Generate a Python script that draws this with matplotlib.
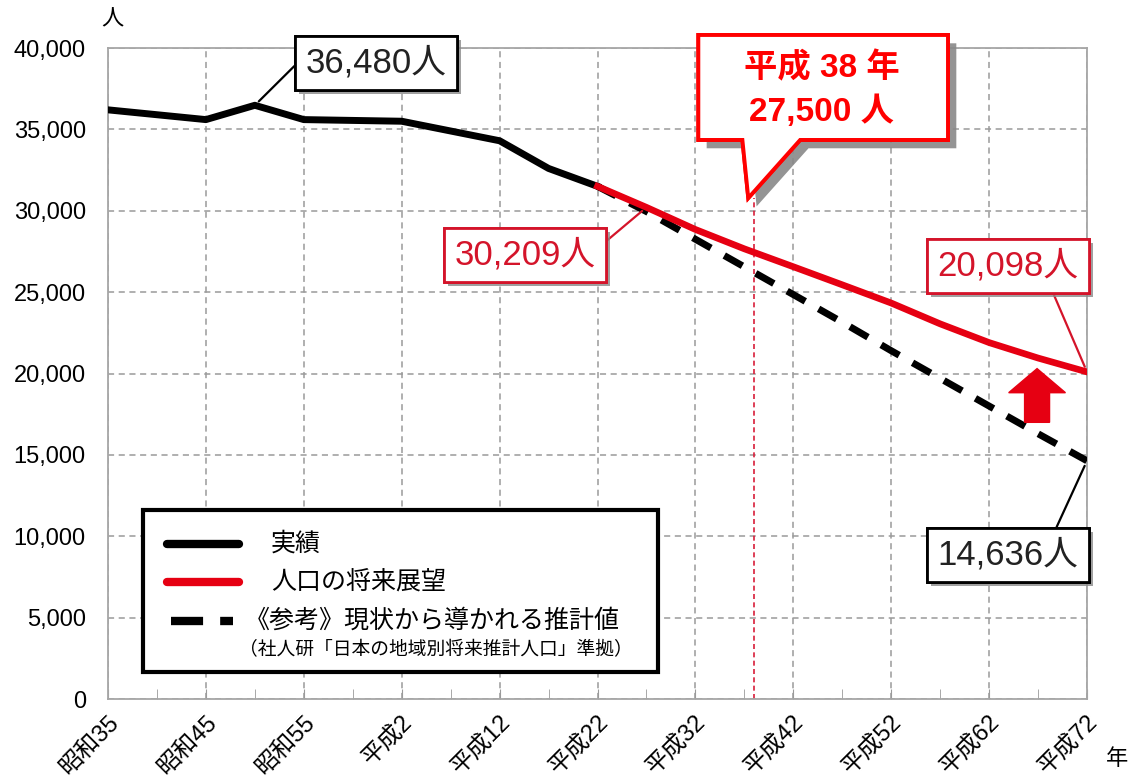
import matplotlib
matplotlib.use("Agg")
import matplotlib.pyplot as plt
import matplotlib.patheffects as pe
from matplotlib.patches import Polygon, Rectangle
from matplotlib.lines import Line2D
from matplotlib.ticker import FuncFormatter, MultipleLocator

plt.rcParams["font.family"] = ["Liberation Sans", "Noto Sans CJK JP", "DejaVu Sans"]

# Data
years_actual = [1960, 1965, 1970, 1975, 1980, 1985, 1990, 1995, 2000, 2005, 2010]
pop_actual = [36200, 35900, 35600, 36480, 35600, 35550, 35500, 34900, 34300, 32600, 31500]

years_future = [2010, 2015, 2020, 2025, 2030, 2035, 2040, 2045, 2050, 2055, 2060]
pop_vision = [31500, 30209, 28850, 27660, 26560, 25450, 24330, 23050, 21900, 20950, 20098]
pop_reference = [31500, 29950, 28250, 26550, 24850, 23150, 21400, 19700, 18000, 16300, 14636]

tick_years = [1960, 1970, 1980, 1990, 2000, 2010, 2020, 2030, 2040, 2050, 2060]
tick_labels = ["昭和35", "昭和45", "昭和55", "平成2", "平成12", "平成22",
               "平成32", "平成42", "平成52", "平成62", "平成72"]

target_year = 2026
target_label = ["平成 38 年", "27,500 人"]

RED = "#e60012"
TXT_RED = "#d4142a"
GRID = "#9a9a9a"

fig = plt.figure(figsize=(11.29, 7.78), dpi=100)
ax = fig.add_axes([108 / 1129, 79 / 778, 979 / 1129, 651 / 778])

ax.set_xlim(1960, 2060)
ax.set_ylim(0, 40000)

# grid + spines
ax.set_xticks(tick_years)
ax.set_xticklabels(tick_labels, rotation=45, ha="right", va="top",
                   rotation_mode="anchor", fontsize=17)
ax.xaxis.set_minor_locator(MultipleLocator(5))
ax.yaxis.set_major_locator(MultipleLocator(5000))
ax.yaxis.set_major_formatter(FuncFormatter(lambda v, p: f"{int(v):,}"))
ax.tick_params(axis="y", length=0, pad=16, labelsize=17)
ax.tick_params(axis="x", which="both", direction="in", length=7, color=GRID, pad=9)
ax.grid(True, which="major", color=GRID, linestyle=(0, (4, 3)), linewidth=1.1)
for s in ax.spines.values():
    s.set_color("#a6a6a6")
    s.set_linewidth(1.3)

# series
ax.plot(years_future, pop_reference, color="black", lw=5, linestyle=(0, (3, 2.2)),
        dash_capstyle="butt", zorder=3)
ax.plot(years_actual, pop_actual, color="black", lw=5, solid_joinstyle="round", zorder=4)
ax.plot(years_future, pop_vision, color=RED, lw=4.8, zorder=5)

# red marker line for H38
ax.plot([target_year, target_year], [0, 30800], color="#d81e3a", lw=1.2,
        linestyle=(0, (3, 2)), zorder=2, clip_on=False)

# up arrow
ax_c, head_w, shaft_w = 2054.9, 5.8, 2.55
arrow = Polygon([(ax_c, 20300), (ax_c + head_w / 2, 18820), (ax_c + shaft_w / 2, 18820),
                 (ax_c + shaft_w / 2, 17000), (ax_c - shaft_w / 2, 17000),
                 (ax_c - shaft_w / 2, 18820), (ax_c - head_w / 2, 18820)],
                closed=True, color=RED, zorder=6)
ax.add_patch(arrow)

shadow = [pe.withSimplePatchShadow(offset=(3, -3), shadow_rgbFace="#888888", alpha=0.8), pe.Normal()]


def label(text, xy, xytext, color, relpos, edge):
    a = ax.annotate(text, xy=xy, xytext=xytext, textcoords="data", fontsize=25,
                    color=color, ha="center", va="center", zorder=8,
                    bbox=dict(boxstyle="square,pad=0.3", fc="white", ec=edge, lw=2),
                    arrowprops=dict(arrowstyle="-", color=edge, lw=1.6, relpos=relpos,
                                    shrinkA=0, shrinkB=4),
                    annotation_clip=False)
    a.get_bbox_patch().set_path_effects(shadow)
    return a


label("36,480人", (1975, 36480), (1987.4, 39080), "#222222", (0, 0.75), "black")
label("30,209人", (2015, 30209), (2002.6, 27280), TXT_RED, (1, 0.65), "#d4142a")
label("20,098人", (2060, 20098), (2051.9, 26600), TXT_RED, (0.79, 0), "#d4142a")
label("14,636人", (2060, 14636), (2051.9, 8850), "#222222", (0.81, 1), "black")

# H38 callout
callout = Polygon([(2020.3, 40800), (2045.8, 40800), (2045.8, 34350), (2030.7, 34350),
                   (2025.4, 30780), (2024.8, 34350), (2020.3, 34350)],
                  closed=True, fc="white", ec="#ff0000", lw=2.8, clip_on=False, zorder=9,
                  joinstyle="miter")
callout.set_path_effects([pe.withSimplePatchShadow(offset=(6, -6), shadow_rgbFace="#888888", alpha=0.9), pe.Normal()])
ax.add_patch(callout)
ax.text(2032.9, 38770, target_label[0], color="#ff0000", fontsize=24, fontweight="bold",
        ha="center", va="center", zorder=10)
ax.text(2032.9, 36070, target_label[1], color="#ff0000", fontsize=24, fontweight="bold",
        ha="center", va="center", zorder=10)

# legend box (drawn by hand to match the two-line note)
tr = ax.transAxes
ax.add_patch(Rectangle((0.0357, 0.0415), 0.5261, 0.2488, transform=tr, fc="white",
                       ec="black", lw=3, zorder=7))
ax.add_line(Line2D([0.0603, 0.1338], [0.2381, 0.2381], transform=tr, color="black", lw=6,
                   solid_capstyle="round", zorder=8))
ax.add_line(Line2D([0.0603, 0.1338], [0.1797, 0.1797], transform=tr, color=RED, lw=6,
                   solid_capstyle="round", zorder=8))
ax.add_line(Line2D([0.0644, 0.1277], [0.1198, 0.1198], transform=tr, color="black", lw=6,
                   linestyle=(0, (3.85, 2.05)), zorder=8))
ax.text(0.1665, 0.2381, "実績", transform=tr, fontsize=18, va="center", zorder=8)
ax.text(0.1665, 0.1797, "人口の将来展望", transform=tr, fontsize=18, va="center", zorder=8)
ax.text(0.1400, 0.1198, "《参考》現状から導かれる推計値", transform=tr, fontsize=18,
        va="center", zorder=8)
ax.text(0.1340, 0.0753, "（社人研「日本の地域別将来推計人口」準拠）", transform=tr,
        fontsize=13.5, va="center", zorder=8)

# unit labels
ax.text(0.004, 1.043, "人", transform=tr, fontsize=16, ha="center", va="center")
ax.text(1.0307, -0.0937, "年", transform=tr, fontsize=16, ha="center", va="center")

plt.savefig("out.png", dpi=100)
